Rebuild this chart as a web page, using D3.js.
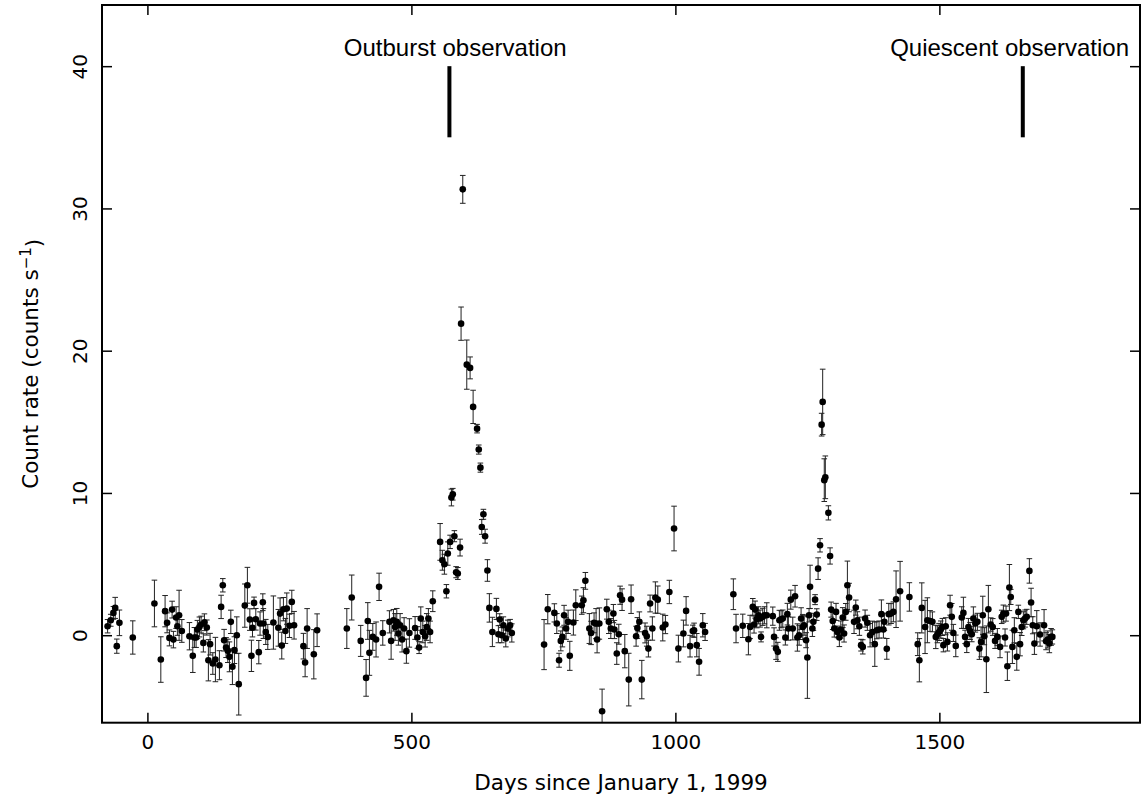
<!DOCTYPE html>
<html>
<head>
<meta charset="utf-8">
<script src="https://cdn.jsdelivr.net/npm/d3@7"></script>
<style>
  html, body { margin: 0; padding: 0; background: #fff; }
  svg { display: block; }
  .tick text { font-family: "DejaVu Sans", sans-serif; font-size: 20px; fill: #000; }
  .title { font-family: "DejaVu Sans", sans-serif; font-size: 21.5px; fill: #000; }
  .note { font-family: "Liberation Sans", Arial, sans-serif; font-size: 24px; fill: #000; }
</style>
</head>
<body>
<div id="chart"></div>
<script>
// light curve: days since 1999-01-01, count rate, 1-sigma error
const days = [
  -75.4, -69.4, -64.4, -61, -58, -53, -27.7, 13.3, 25.4, 33.5, 37.3, 41.7, 46.8, 49.3, 54.4, 56.8, 60, 65.2,
  79.6, 86, 89, 92.2, 94.7, 98.5, 101.7, 106, 108, 112.5, 115.5, 118.7, 123.9, 128.8, 136.4, 139.6, 142.8,
  145.3, 149, 152.3, 155.4, 158, 161, 164.8, 169.3, 173, 184.5, 189.4, 194, 197, 199, 202, 205.3, 211, 213.4,
  218.6, 219.7, 224.2, 228, 238.6, 248, 251.3, 254.5, 257.6, 261.4, 264, 269, 273.5, 277.8, 295.5, 298.7,
  302.5, 315.2, 321.4,
  377.7, 387, 404, 414.2, 417.4, 420.5, 426.9, 433.1, 438.8, 445.8, 458.4, 461.6, 466, 469.1, 472.3, 475.4,
  478.6, 482.4, 486.2, 490.5, 496.2, 507, 511.4, 514.6, 517.8, 521.6, 526, 529.1, 532.2, 535.4, 540.5, 554.4,
  558.7, 562.5, 566.3, 569, 573.3, 575.8, 578.4, 581.4, 584.7, 587.9, 592.2, 594.1, 597.3, 604.9, 611.2,
  616.9, 624.4, 627.6, 630.7, 633.3, 636.4, 639.6, 644, 647.7, 653.4, 661, 664.8, 667.4, 671.2, 674.2, 678.8,
  682.6, 687, 690.2,
  751.3, 758.3, 770.8, 775.4, 779.7, 783, 786, 789.2, 793, 796.8, 800, 806.8, 811.4, 822.7, 825.8, 829.5,
  837.1, 840.3, 846, 849.8, 851.7, 856, 861.2, 870.1, 873.9, 877.7, 882.6, 884.5, 889, 892.8, 895.3, 899,
  904.2, 911.7, 916.1, 925.6, 928, 931.8, 936.4, 942.6, 945.8, 948.9, 952.1, 956.4, 962.1, 966.7, 976.1,
  981.1, 988.6, 997.5, 1005.7, 1015.2, 1020.3, 1027.8, 1033, 1035.4, 1040.5, 1044.9, 1051.9, 1056.3,
  1109.8, 1114.9, 1127.6, 1138.3, 1141.5, 1146.6, 1149, 1151, 1154.2, 1157.2, 1160.4, 1162.3, 1165.5, 1168.6,
  1173.1, 1184.5, 1186.9, 1190.7, 1194, 1197, 1200.2, 1203.4, 1208.3, 1212.1, 1214, 1218.6, 1222.3, 1226.7,
  1231.1, 1234.3, 1238.1, 1241.3, 1243.8, 1247.5, 1250, 1253.2, 1255.1, 1259.5, 1261.4, 1264.6, 1267.8,
  1270.3, 1274, 1277, 1279, 1282, 1284, 1289.8, 1293, 1295, 1298, 1301, 1304.3, 1306.8, 1310.6, 1313.3,
  1317, 1319.5, 1322.7, 1325.8, 1329, 1338.4, 1341.7, 1344.7, 1348.5, 1351.7, 1354.9, 1359.3, 1363.6, 1368.8,
  1373.2, 1377.7, 1381.5, 1385.8, 1390.2, 1394, 1395.8, 1400.4, 1404.2, 1408.5, 1412.9, 1418, 1425.6, 1443.2,
  1459, 1462.1, 1466.7, 1472.9, 1477.3, 1482.4, 1486.8, 1493.2, 1496.2, 1499.4, 1502.7, 1505.7, 1507.6,
  1512.1, 1515.2, 1520.3, 1523.5, 1526.5, 1531.1, 1542.4, 1545.5, 1548.7, 1551.9, 1555, 1558.1, 1561.4,
  1564.4, 1568.2, 1572, 1575.8, 1579, 1582.2, 1585.2, 1589, 1592.8, 1597.3, 1601.1, 1605.5, 1609.8, 1614.9,
  1618.1, 1621.2, 1624.4, 1626.3, 1628.8, 1632.6, 1635.2, 1638.3, 1642, 1646.6, 1649.6, 1652.8, 1656, 1659.1,
  1662.3, 1665.5, 1670.5, 1673.7, 1676.9, 1680, 1684.5, 1690.7, 1698.3, 1702.1, 1705.3, 1708.3, 1711.6, 1714
];
const rates = [
  0.63, 1.05, 1.57, 1.92, -0.77, 0.87, -0.16, 2.23, -1.71, 1.69, 0.87, -0.19, 1.8, -0.31, 1.24, 0.63, 1.4, 0.3,
  -0.07, -1.45, -0.16, -0.16, 0.4, 0.58, 0.75, -0.54, 0.91, 0.54, -1.76, -0.63, -1.99, -1.71, -2.11, 1.99, 3.51,
  -0.35, -0.87, -1.1, -1.52, 0.94, -2.22, -1.05, 0.0, -3.44, 2.08, 3.51, 1.1, -1.45, 0.52, 2.27, 1.12, -1.19, 0.82,
  2.32, 0.82, 0.23, -0.12, 0.89, 0.52, 1.52, -0.73, 1.83, 0.3, 1.87, 0.66, 2.34, 0.7, -0.77, -1.92,
  0.47, -1.34, 0.35,
  0.47, 2.65, -0.4, -3.0, 1.0, -1.24, -0.12, -0.3, 3.4, 0.16, 0.94, -0.4, 1.05, 0.58, 0.94, 0.12,
  0.7, -0.3, 0.47, -1.12, 0.16, 0.51, -0.16, -0.87, 1.17, 0.23, -0.07, 0.58, 1.17, 0.23, 2.39, 6.56,
  5.27, 4.99, 3.09, 5.74, 6.56, 9.68, 9.91, 6.96, 4.43, 4.34, 6.16, 21.9, 31.34, 19.02, 18.79,
  16.05, 14.52, 13.05, 11.78, 7.61, 8.5, 6.96, 4.55, 1.92, 0.23, 1.85, 0.07, 1.1, 0.0, 0.7, -0.23,
  0.47, 0.7, 0.16,
  -0.66, 1.83, 1.57, 0.82, -1.76, -0.4, -0.12, 1.4, 0.47, 0.94, -1.45, 0.89, 2.11, 2.11, 2.46, 3.82,
  0.47, 0.16, 0.87, 0.82, -0.3, 0.82, -5.34, 1.83, 0.94, 0.47, 1.52, 0.4, -1.29, 0.07, 2.81, 2.5,
  -1.12, -3.12, 2.53, -0.07, 0.51, 0.94, -3.12, 0.16, -0.07, -0.94, 2.23, 0.47, 2.65, 2.5, 0.54,
  0.75, 3.04, 7.5, -0.94, 0.12, 1.71, -0.77, 0.3, 0.35, -0.7, -1.87, 0.7, 0.23,
  2.88, 0.47, 0.66, -0.28, 0.58, 1.99, 0.75, 1.8, 1.12, 1.4, 1.17, -0.12, 1.29, 1.4,
  1.4, 1.34, -0.12, -0.94, -1.17, 1.05, 1.12, 1.17, -0.16, 1.48, 0.47, 2.5, 0.47, 2.74,
  -0.16, 0.0, 1.17, 0.58, 0.7, -0.35, -1.57, 1.4, 3.4, 0.47, 0.94, 2.5, 1.45,
  4.68, 6.32, 14.8, 16.4, 10.9, 11.1, 8.6, 5.57, 1.8, 1.0, 0.47, 1.64, 0.23, -0.16, 0.4,
  1.24, 0.12, 1.64, 3.51, 2.65, 0.94, 1.94, 1.05, 0.63, -0.7, -0.82, 1.17, 0.87, 0.0,
  0.23, -0.63, 0.35, 0.4, 1.48, 0.4, 0.94, -0.96, 1.48, 1.52, 1.64, 2.53, 3.09, 2.69,
  -0.63, -1.76, 1.92, 0.58, 1.05, 1.0, 0.94, -0.12, 0.07, 0.23, 0.4, 0.58, -0.7,
  0.63, -0.47, 2.11, 1.29, 0.16, -0.75, 1.24, 1.57, -0.12, -0.63, 0.58, 0.3, 0.07,
  1.17, 0.82, 0.94, -0.94, -0.47, 1.4, -0.07, -1.69, 1.83, 0.75, 0.58, -0.4, -0.12, -0.82,
  1.29, 1.52, -0.16, 1.52, -2.18, 3.35, 2.69, -0.82, 0.35, -1.52, 1.64, -0.63, 0.58, 1.05,
  1.17, 1.29, 4.52, 2.3, 0.7, -0.59, 0.63, 0.05, 0.7, -0.42, -0.3, -0.59, -0.12, -0.12
];
const errors = [
  0.47, 0.42, 0.45, 0.74, 0.5, 0.9, 1.17, 1.64, 1.6, 1.1, 0.7, 0.56, 0.59, 0.58, 0.76, 0.64, 1.76, 0.8,
  0.96, 1.17, 0.7, 0.7, 0.64, 0.7, 0.59, 0.64, 0.59, 0.53, 1.45, 0.76, 0.76, 1.56, 1.02, 0.82, 0.47,
  0.76, 0.7, 0.82, 1.05, 0.82, 1.25, 0.94, 1.29, 2.17, 1.52, 1.26, 0.76, 1.1, 0.64, 0.41, 0.76, 0.82, 0.82,
  0.59, 1.05, 0.88, 0.88, 1.87, 1.29, 1.1, 0.94, 0.82, 0.88, 1.1, 0.82, 0.82, 0.97, 0.9, 1.0,
  1.4, 1.73, 1.15,
  1.4, 1.58, 1.09, 1.29, 1.29, 1.58, 0.94, 1.23, 0.96, 0.86, 0.78, 1.29, 0.76, 0.94, 0.94, 0.82,
  0.82, 0.88, 0.76, 0.85, 1.0, 0.8, 0.76, 0.42, 0.82, 0.76, 0.76, 0.94, 0.7, 0.76, 0.73, 1.29,
  0.7, 0.7, 0.47, 0.82, 0.47, 0.59, 0.41, 0.39, 0.39, 0.42, 0.59, 1.17, 0.98, 1.73, 0.77,
  1.17, 0.3, 0.32, 0.32, 0.52, 0.35, 0.49, 0.76, 1.0, 1.03, 0.74, 0.6, 0.41, 0.53, 0.59, 0.59,
  0.59, 0.41, 0.64,
  1.76, 1.03, 0.64, 0.7, 0.49, 0.7, 0.7, 0.7, 0.76, 0.82, 1.02, 0.88, 1.08, 0.64, 0.88, 0.59,
  1.05, 0.82, 0.7, 1.05, 0.94, 1.1, 1.55, 0.7, 0.82, 0.7, 0.64, 0.64, 0.76, 0.7, 0.64, 0.76,
  1.17, 1.85, 1.0, 0.7, 0.73, 0.7, 1.35, 0.7, 0.7, 0.59, 0.59, 0.82, 1.1, 0.96, 0.94,
  0.64, 0.82, 1.57, 0.94, 0.94, 1.0, 0.76, 0.41, 0.5, 0.82, 0.94, 0.82, 0.6,
  1.08, 1.0, 0.82, 1.1, 0.82, 0.59, 0.6, 0.6, 0.6, 0.6, 0.6, 0.35, 0.6, 0.6,
  0.88, 0.64, 0.64, 0.76, 0.67, 0.7, 0.6, 0.6, 0.53, 0.76, 0.82, 0.67, 0.8, 0.76,
  0.96, 0.7, 0.76, 0.88, 0.7, 0.53, 2.87, 0.47, 1.52, 0.56, 0.6, 0.35, 0.41,
  0.76, 0.47, 0.8, 2.3, 1.5, 1.5, 0.5, 0.57, 0.53, 0.6, 0.6, 0.6, 0.41, 0.64, 0.6,
  0.7, 0.6, 0.59, 1.7, 1.0, 0.82, 0.53, 0.6, 0.64, 0.41, 0.5, 0.6, 0.53, 0.82,
  0.76, 1.56, 0.6, 0.6, 1.0, 0.6, 0.6, 0.73, 0.76, 0.7, 0.7, 1.99, 2.1, 1.0,
  0.8, 1.52, 1.76, 1.87, 1.58, 0.73, 0.7, 0.82, 0.6, 0.6, 0.6, 0.6, 0.47,
  0.6, 0.64, 0.7, 0.94, 0.6, 0.76, 0.76, 1.1, 0.47, 0.59, 0.6, 0.6, 0.53,
  0.82, 0.6, 0.6, 0.76, 1.05, 1.34, 0.6, 2.34, 1.67, 0.47, 0.59, 0.53, 0.59, 0.76,
  0.47, 0.6, 0.6, 0.53, 1.0, 1.62, 0.53, 1.17, 0.88, 0.94, 0.47, 0.82, 0.6, 0.6,
  0.6, 0.53, 0.86, 1.0, 0.6, 0.76, 1.1, 0.82, 1.1, 0.6, 0.6, 0.64, 0.59, 0.5
];

// observation markers: bar day, label centre day
const noteLabels = ["Outburst observation", "Quiescent observation"];
const noteDays = [572, 1658];
const noteTextDays = [583, 1633];
const noteRange = [35, 40];

const xTicks = [0, 500, 1000, 1500];
const yTicks = [0, 10, 20, 30, 40];

const W = 1148, H = 804;
const box = { left: 102, right: 1140, top: 5, bottom: 722.7 };

const svg = d3.select("#chart").append("svg").attr("width", W).attr("height", H);

const x = d3.scaleLinear().domain([-86, 1880]).range([box.left, box.right]);
const y = d3.scaleLinear().domain([-6.15, 44.3]).range([box.bottom, box.top]);

const points = days.map((d, i) => ({ d, r: rates[i], e: errors[i] }));

// clip so the error bars stay inside the frame
svg.append("clipPath").attr("id", "clip")
  .append("rect")
  .attr("x", box.left).attr("y", box.top)
  .attr("width", box.right - box.left).attr("height", box.bottom - box.top);

const plot = svg.append("g").attr("clip-path", "url(#clip)");

// error bars
const bars = plot.append("g").attr("stroke", "#222").attr("stroke-width", 1);
bars.selectAll("line.v")
  .data(points).enter().append("line")
  .attr("class", "v")
  .attr("x1", (p) => x(p.d)).attr("x2", (p) => x(p.d))
  .attr("y1", (p) => y(p.r - p.e)).attr("y2", (p) => y(p.r + p.e));
[-1, 1].forEach((s) => {
  bars.selectAll("line.c" + (s > 0 ? "t" : "b"))
    .data(points).enter().append("line")
    .attr("class", "c" + (s > 0 ? "t" : "b"))
    .attr("x1", (p) => x(p.d) - 2.8).attr("x2", (p) => x(p.d) + 2.8)
    .attr("y1", (p) => y(p.r + s * p.e)).attr("y2", (p) => y(p.r + s * p.e));
});

// points
plot.append("g").selectAll("circle")
  .data(points).enter().append("circle")
  .attr("cx", (p) => x(p.d)).attr("cy", (p) => y(p.r))
  .attr("r", 3.3).attr("fill", "#000");

// axes, ticks pointing inward
const fmt = d3.format("d");
const axBottom = svg.append("g").attr("transform", `translate(0,${box.bottom})`)
  .call(d3.axisBottom(x).tickValues(xTicks).tickFormat(fmt).tickSize(-10).tickSizeOuter(0).tickPadding(12));
const axTop = svg.append("g").attr("transform", `translate(0,${box.top})`)
  .call(d3.axisTop(x).tickValues(xTicks).tickSize(-10).tickSizeOuter(0).tickFormat(""));
const axLeft = svg.append("g").attr("transform", `translate(${box.left},0)`)
  .call(d3.axisLeft(y).tickValues(yTicks).tickFormat(fmt).tickSize(-10).tickSizeOuter(0));
const axRight = svg.append("g").attr("transform", `translate(${box.right},0)`)
  .call(d3.axisRight(y).tickValues(yTicks).tickSize(-10).tickSizeOuter(0).tickFormat(""));

[axBottom, axTop, axLeft, axRight].forEach((g) => {
  g.select(".domain").remove();
  g.selectAll(".tick line").attr("stroke", "#000").attr("stroke-width", 1.5);
});

axLeft.selectAll(".tick text")
  .attr("x", 0).attr("dy", null)
  .attr("text-anchor", "middle")
  .attr("transform", "translate(-15,0) rotate(-90)");

// frame
svg.append("rect")
  .attr("x", box.left).attr("y", box.top)
  .attr("width", box.right - box.left).attr("height", box.bottom - box.top)
  .attr("fill", "none").attr("stroke", "#000").attr("stroke-width", 2);

// axis titles
svg.append("text").attr("class", "title")
  .attr("x", (box.left + box.right) / 2).attr("y", 790)
  .attr("text-anchor", "middle")
  .text("Days since January 1, 1999");

const yt = svg.append("text").attr("class", "title")
  .attr("transform", `translate(38,${(box.top + box.bottom) / 2}) rotate(-90)`)
  .attr("text-anchor", "middle");
yt.append("tspan").text("Count rate (counts s");
yt.append("tspan").attr("dy", "-0.45em").attr("font-size", "15px").text("\u22121");
yt.append("tspan").attr("dy", "0.45em").text(")");

// observation markers
noteDays.forEach((d, i) => {
  svg.append("line")
    .attr("x1", x(d)).attr("x2", x(d))
    .attr("y1", y(noteRange[0])).attr("y2", y(noteRange[1]))
    .attr("stroke", "#000").attr("stroke-width", 4);
  svg.append("text").attr("class", "note")
    .attr("x", x(noteTextDays[i])).attr("y", 56)
    .attr("text-anchor", "middle")
    .text(noteLabels[i]);
});
</script>
</body>
</html>
